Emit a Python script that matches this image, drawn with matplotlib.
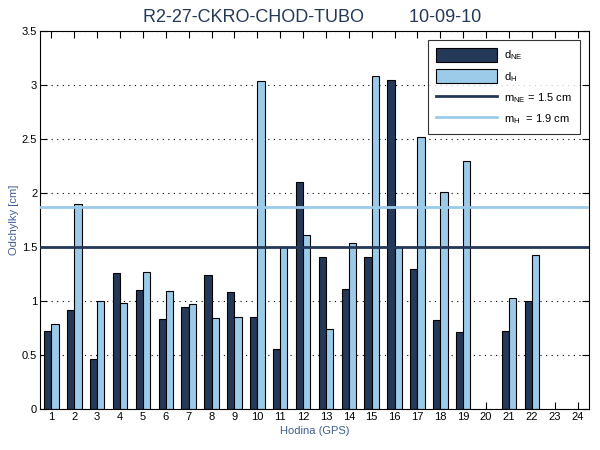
import matplotlib
matplotlib.use("Agg")
import matplotlib.pyplot as plt
import numpy as np

hours = list(range(1, 25))
d_ne = [0.72, 0.92, 0.46, 1.26, 1.10, 0.83, 0.94, 1.24, 1.08, 0.85, 0.56, 2.10,
        1.41, 1.11, 1.41, 3.05, 1.30, 0.82, 0.71, 0, 0.72, 1.00, 0, 0]
d_h = [0.79, 1.90, 1.00, 0.98, 1.27, 1.09, 0.97, 0.84, 0.85, 3.04, 1.50, 1.61,
       0.74, 1.54, 3.08, 1.50, 2.52, 2.01, 2.30, 0, 1.03, 1.43, 0, 0]
m_ne = 1.5
m_h = 1.87
yticks = [0, 0.5, 1, 1.5, 2, 2.5, 3, 3.5]
ytick_labels = ['0', '0.5', '1', '1.5', '2', '2.5', '3', '3.5']
title_text = "R2-27-CKRO-CHOD-TUBO         10-09-10"

plt.rcParams['font.family'] = ['Liberation Sans', 'DejaVu Sans']
plt.rcParams['mathtext.fontset'] = 'custom'
plt.rcParams['mathtext.rm'] = 'Liberation Sans'
plt.rcParams['mathtext.it'] = 'Liberation Sans'

dark = '#243858'
light = '#9ccbe9'
labc = '#3d5f96'

fig = plt.figure(figsize=(6, 4.5), dpi=100)
ax = fig.add_axes([40/600, 1-409/450, 549/600, 378/450])

x = np.array(hours, dtype=float)
w = 0.315
ne_x = [xi - w/2 for xi, v in zip(x, d_ne) if v > 0]
ne_v = [v for v in d_ne if v > 0]
h_x = [xi + w/2 for xi, v in zip(x, d_h) if v > 0]
h_v = [v for v in d_h if v > 0]
b1 = ax.bar(ne_x, ne_v, width=w, color=dark, edgecolor='black', linewidth=0.8, zorder=2)
b2 = ax.bar(h_x, h_v, width=w, color=light, edgecolor='black', linewidth=0.8, zorder=2)
l1 = ax.axhline(m_ne, color=dark, linewidth=2, zorder=3)
l2 = ax.axhline(m_h, color=light, linewidth=2, zorder=3)

ax.set_xlim(0.5, 24.5)
ax.set_ylim(0, 3.5)
ax.set_xticks(hours)
ax.set_xticklabels([str(h) for h in hours])
ax.set_yticks(yticks)
ax.set_yticklabels(ytick_labels)
ax.tick_params(direction='in', top=True, right=True, length=5, labelsize=8, pad=2)
ax.yaxis.grid(True, linestyle=(0, (1, 4)), color='black', linewidth=0.8, zorder=0)
ax.set_axisbelow(True)
for s in ax.spines.values():
    s.set_linewidth(0.8)

ax.set_xlabel('Hodina (GPS)', fontsize=8, color=labc, labelpad=3)
ax.set_ylabel('Odchylky [cm]', fontsize=8, color=labc, labelpad=2)

fig.text(312/600, 1-17.5/450, title_text, ha='center', va='center', fontsize=13,
         color=dark)

leg = ax.legend([b1, b2, l1, l2],
                ['$\\mathregular{d_{NE}}$', '$\\mathregular{d_H}$',
                 '$\\mathregular{m_{NE}}$ = 1.5 cm', '$\\mathregular{m_H}$  = 1.9 cm'],
                loc='upper right', bbox_to_anchor=(580/600, 1-40/450), bbox_transform=fig.transFigure,
                fontsize=8, frameon=True, fancybox=False, handlelength=5.5, handleheight=1.6,
                borderpad=0.7, labelspacing=0.6, handletextpad=0.7, borderaxespad=0)
leg.get_frame().set_edgecolor('black')
leg.get_frame().set_linewidth(0.8)

fig.savefig('out.png', dpi=100)
